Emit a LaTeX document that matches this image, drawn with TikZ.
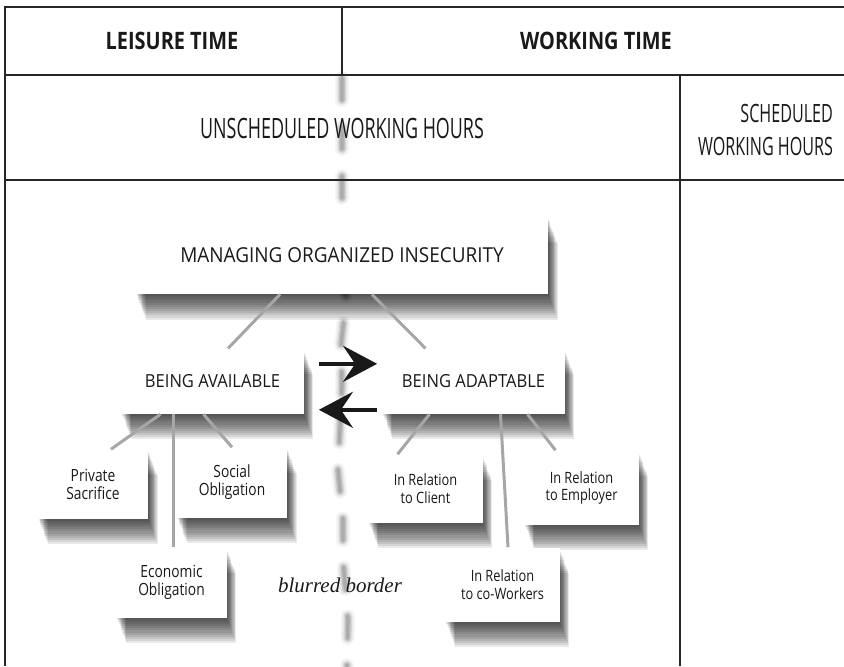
\documentclass[tikz,border=0pt]{standalone}
\usepackage{fontspec}
\newfontfamily\headfont[FakeStretch=0.83]{Open Sans}
\newfontfamily\hoursfont[FakeStretch=0.64]{Open Sans}
\newfontfamily\boxfont[FakeStretch=0.92]{Open Sans}
\newfontfamily\leaffont[FakeStretch=0.82]{Open Sans}
\newfontfamily\notefont{Liberation Serif}
\usetikzlibrary{arrows.meta,positioning,shadows}
\tikzset{
  % soft shadow: the same box stacked many times, each step a little further down
  shadowstep/.style = {general shadow={fill=black, opacity=0.085, shadow xshift=#1*0.4pt, shadow yshift=-#1*1.07pt}},
  softshadow/.style = {shadowstep=1, shadowstep=2, shadowstep=3, shadowstep=4, shadowstep=5, shadowstep=6,
                       shadowstep=7, shadowstep=8, shadowstep=9, shadowstep=10, shadowstep=11, shadowstep=12},
  basic/.style  = {rectangle, fill=white, align=center, text=black!90, inner sep=2pt, softshadow},
  root/.style   = {basic, minimum width=206pt, minimum height=38.5pt, font=\boxfont\fontsize{10.3}{12}\selectfont},
  branch/.style = {basic, minimum width=91pt, minimum height=32.5pt, font=\boxfont\fontsize{9}{11}\selectfont},
  leaf/.style   = {basic, minimum width=55pt, minimum height=35pt, font=\leaffont\fontsize{8.4}{9}\selectfont},
  leafr/.style  = {leaf, minimum width=57pt, font=\leaffont\fontsize{7.8}{8.6}\selectfont},
  header/.style = {text=black!90, font=\headfont\bfseries\fontsize{12}{14}\selectfont},
  hours/.style  = {text=black!90, align=right, font=\hoursfont\fontsize{14}{16}\selectfont},
  link/.style   = {draw=black!35, line width=1.5pt},
  border/.style = {draw=black!45, line cap=round, dash pattern=on 11pt off 13.5pt},
  tableline/.style = {draw=black!85, line width=0.8pt}
}

\begin{document}
\begin{tikzpicture}[x=0.5pt, y=-0.5pt,
  >={Stealth[length=17pt, width=18pt, inset=6pt]}]
\useasboundingbox (0,0) rectangle (844,666);

% blurred border, a few soft strokes on top of each other
\foreach \lw/\op in {7pt/0.08, 5.5pt/0.12, 4pt/0.2, 2.8pt/0.3, 1.6pt/0.4}
  \draw[border, line width=\lw, opacity=\op] (342,78) -- (342,210) -- (346,300) -- (341,345)
    -- (342,385) -- (338,470) -- (343,520) -- (343,560) -- (348,620) -- (347,666);

% table frame
\draw[tableline] (844,7) -- (5,7) -- (5,666);
\draw[tableline] (5,75) -- (844,75);
\draw[tableline] (5,180) -- (844,180);
\draw[tableline] (342,7) -- (342,75);
\draw[tableline] (680,75) -- (680,666);

\node[header, anchor=base] (leisure) at (172,49) {LEISURE TIME};
\node[header, anchor=base] (working) at (596,49) {WORKING TIME};
\node[hours, anchor=base] (unsched) at (342,138) {UNSCHEDULED WORKING HOURS};
\node[hours, anchor=east, font=\hoursfont\fontsize{12.6}{16.5}\selectfont] (sched) at (840,130) {SCHEDULED\\WORKING HOURS};

\node[font=\notefont\itshape\fontsize{10.5}{12}\selectfont, text=black!90] (note) at (340,585) {blurred border};

% root and the two branches
\node[root] (root) at (342,255.5) {MANAGING ORGANIZED INSECURITY};
\node[branch, below=27pt of root, xshift=-64.75pt] (avail) {BEING AVAILABLE};
\node[branch, below=27pt of root, xshift=65.75pt] (adapt) {BEING ADAPTABLE};

% leaves under each branch
\node[leaf, below=17.5pt of avail, xshift=-59.75pt, minimum height=34.5pt] (private) {Private\\Sacrifice};
\node[leaf, below=16.5pt of avail, xshift=9.75pt] (social) {Social\\Obligation};
\node[leaf, below=66.5pt of avail, xshift=-20.5pt] (econ) {Economic\\Obligation};

\node[leafr, below=20pt of adapt, xshift=-24pt, minimum height=34pt] (client) {In Relation\\to Client};
\node[leafr, below=18pt of adapt, xshift=54pt, minimum height=37pt] (employer) {In Relation\\to Employer};
\node[leafr, below=66.5pt of adapt, xshift=14.5pt, minimum height=37pt] (cowork) {In Relation\\to co-Workers};

% connectors
\draw[link] ([xshift=-31pt]root.south) -- ([xshift=7.75pt]avail.north);
\draw[link] ([xshift=15pt]root.south) -- ([xshift=-24pt]adapt.north);
\draw[link] ([xshift=-26pt]avail.south) -- ([xshift=9pt]private.north);
\draw[link] ([xshift=-19.75pt]avail.south) -- ([xshift=0.75pt]econ.north);
\draw[link] ([xshift=-4.5pt]avail.south) -- (social.north);
\draw[link] ([xshift=-22pt]adapt.south) -- ([xshift=-14pt]client.north);
\draw[link] ([xshift=13.5pt]adapt.south) -- ([xshift=2.75pt]cowork.north);
\draw[link] ([xshift=27pt]adapt.south) -- ([xshift=-13pt]employer.north);

% the two way exchange
\draw[->, line width=2pt, black!90, shorten <=7.5pt, shorten >=2.5pt]
  ([yshift=8.75pt]avail.east) -- ([yshift=8.75pt]adapt.west);
\draw[->, line width=2pt, black!90, shorten <=2.5pt, shorten >=7.5pt]
  ([yshift=-14.25pt]adapt.west) -- ([yshift=-14.25pt]avail.east);
\end{tikzpicture}
\end{document}
